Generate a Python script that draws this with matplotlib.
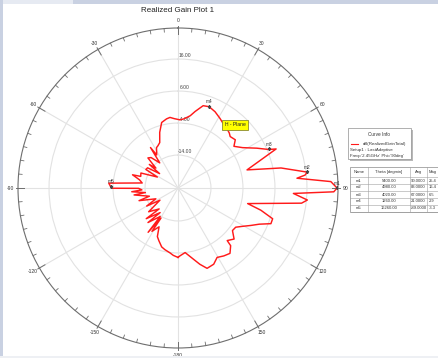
import numpy as np
import matplotlib
matplotlib.use("Agg")
import matplotlib.pyplot as plt
from matplotlib.patches import Rectangle

plt.rcParams['font.family'] = ['Liberation Sans', 'DejaVu Sans']

# Realized gain (dB) versus angle, H-plane cut
theta_deg = [-180, -176, -172.8, -168, -164.5, -160, -157, -154, -149, -150.5,
             -146, -148, -139, -144, -134, -138, -129, -124, -120, -116,
             -108, -106, -99, -98, -94.6, -93, -90.5, -90.2, -89, -86,
             -82, -78, -73.8, -72.7, -68, -62, -60, -56.4, -52, -50.6,
             -48, -45, -41.5, -36, -34.2, -32.8, -28, -25.5, -21.9, -18.2,
             -14, -9.4, -6.5, -3, 1.7, 5, 9.6, 12.6, 17, 21,
             25.9, 31.1, 35, 39.2, 43, 45.4, 49.9, 53.3, 58, 63.2,
             67, 68.3, 75.3, 79, 83, 84.2, 85.3, 87.6, 90, 91.4,
             92.7, 95.3, 97, 102.6, 105, 108, 111, 114, 117.2, 121,
             124.2, 128, 132.3, 136.9, 137.6, 141.5, 146, 150.6, 154.9, 160.1,
             164, 167.7, 173.7, 178.3, 180]
gain_db = [-2.6, -3.2, -3.9, -4.6, -5.2, -6.8, -7.8, -10.8, -8.5, -13.5,
           -7.6, -13.8, -10.0, -14.8, -10.5, -15.5, -12.5, -17.5, -13.0, -16.6,
           -11.5, -15.0, -10.4, -14.0, -9.8, -13.0, -12.0, -3.6, -3.3, -2.6,
           -13.0, -12.0, -9.5, -12.1, -11.8, -17.0, -12.7, -12.9, -17.0, -12.7,
           -15.0, -11.0, -11.6, -14.6, -9.0, -12.0, -10.0, -9.7, -9.0, -6.0,
           -3.2, -2.4, -2.1, -2.6, -3.0, -2.6, -1.4, 0.2, 2.6, 2.9,
           2.2, 1.1, 0.3, -0.2, -0.8, -1.4, -0.9, -2.5, -0.5, 3.3,
           6.5, 8.7, -2.0, 8.5, 16.4, 15.6, 13.0, 23.5, 25.4, 24.4,
           11.8, 16.3, 14.6, -2.0, 2.5, 6.8, 6.8, 3.5, 1.3, -1.0,
           -2.5, -2.7, -0.6, -1.8, 0.1, 1.8, 1.3, 0.6, 2.0, 2.4,
           0.5, -1.5, -4.0, -3.1, -2.6]

# Markers
marker_names = ['m1', 'm2', 'm3', 'm4', 'm5']
marker_theta = [90, 83, 67, 21, -89]
marker_db = [25.4, 16.4, 6.5, 2.9, -3.3]

ring_values = [-14, -4, 6, 16]
ring_labels = ['-14.00', '-4.00', '6.00', '16.00']
angle_ticks = [0, 30, 60, 90, 120, 150, 180, 210, 240, 270, 300, 330]
angle_labels = ['0', '30', '60', '90', '120', '150', '-180', '-150', '-120', '-90', '-60', '-30']

r_min, r_max = -24.3, 25.7

W, H = 438, 358
fig = plt.figure(figsize=(W / 100, H / 100), dpi=100)
fig.patch.set_facecolor('white')

# window frame strips
fig.patches.append(Rectangle((73 / W, 1 - 4 / H), 1, 4 / H, transform=fig.transFigure,
                             facecolor='#c9d1e2', edgecolor='none', zorder=0))
fig.patches.append(Rectangle((0, 1 - 4 / H), 73 / W, 4 / H, transform=fig.transFigure,
                             facecolor='#e6eaf2', edgecolor='none', zorder=0))
fig.patches.append(Rectangle((0, 0), 2.5 / W, 1, transform=fig.transFigure,
                             facecolor='#c9d1e2', edgecolor='none', zorder=0))
fig.patches.append(Rectangle((0, 0), 1, 2.5 / H, transform=fig.transFigure,
                             facecolor='#eef0f4', edgecolor='none', zorder=0))

cx, cy, R = 178, 188, 160
ax = fig.add_axes([(cx - R) / W, (H - cy - R) / H, 2 * R / W, 2 * R / H], projection='polar')
ax.set_theta_zero_location('N')
ax.set_theta_direction(-1)
ax.set_rlim(r_min, r_max)
ax.set_thetagrids(angle_ticks, labels=[''] * len(angle_ticks))
ax.set_rgrids(ring_values, labels=[''] * len(ring_values))
ax.grid(True, color='#e2e2e2', lw=0.8)
ax.spines['polar'].set_color('#6e6e6e')
ax.spines['polar'].set_linewidth(0.8)
ax.tick_params(length=0)
ax.set_facecolor('white')

# tick marks along the outer circle
for a in range(0, 360, 5):
    t = np.deg2rad(a)
    if a % 30 == 0:
        ax.plot([t, t], [r_max - 2.0, r_max + 0.6], color='#6e6e6e', lw=0.7, clip_on=False)
    else:
        ax.plot([t, t], [r_max - 1.1, r_max], color='#6e6e6e', lw=0.6, clip_on=False)

for a, lab in zip(angle_ticks, angle_labels):
    ax.text(np.deg2rad(a), r_max + 2.3, lab, ha='center', va='center',
            fontsize=3.6, color='#333333', clip_on=False)

for v, lab in zip(ring_values, ring_labels):
    ax.annotate(lab, xy=(0, v), xytext=(5, 2.5), textcoords='offset points',
                ha='center', va='center', fontsize=3.6, color='#444444')

# gain curve
ax.plot(np.deg2rad(theta_deg), gain_db, color='#ff1a1a', lw=1.05, zorder=5)

# markers
for name, t, v in zip(marker_names, marker_theta, marker_db):
    ax.plot(np.deg2rad(t), v, marker='v', ms=1.6, color='#444444', zorder=6)
    ax.annotate(name, xy=(np.deg2rad(t), v), xytext=(0, 3.5), textcoords='offset points',
                ha='center', va='center', fontsize=3.4, color='#333333', zorder=7)

# title
fig.text(cx / W, 1 - 10.5 / H, 'Realized Gain Plot 1', ha='center', va='center',
         fontsize=5.8, color='#222222')

# plane tag
fig.text(235 / W, 1 - 125 / H, 'H - Plane', ha='center', va='center', fontsize=3.6,
         color='#222222',
         bbox=dict(boxstyle='square,pad=0.55', facecolor='#ffff00', edgecolor='#8a8a30', lw=0.6))

# curve info box
bx0, by0, bx1, by1 = 348, 128, 411, 159
fig.patches.append(Rectangle(((bx0 + 1.5) / W, 1 - (by1 + 1.5) / H), (bx1 - bx0) / W, (by1 - by0) / H,
                             transform=fig.transFigure, facecolor='#b8b8b8', edgecolor='none', zorder=1))
fig.patches.append(Rectangle((bx0 / W, 1 - by1 / H), (bx1 - bx0) / W, (by1 - by0) / H,
                             transform=fig.transFigure, facecolor='white', edgecolor='#909090',
                             lw=0.5, zorder=2))
fig.text(379.5 / W, 1 - 135 / H, 'Curve Info', ha='center', va='center', fontsize=3.4,
         color='#333333', zorder=3)
fig.lines.append(plt.Line2D([350.5 / W, 358 / W], [1 - 143.5 / H, 1 - 143.5 / H],
                            transform=fig.transFigure, color='#ff1a1a', lw=0.8, zorder=3))
fig.text(385 / W, 1 - 143.5 / H, 'dB(RealizedGainTotal)', ha='center', va='center',
         fontsize=3.2, color='#333333', zorder=3)
fig.text(349.5 / W, 1 - 150.5 / H, 'Setup1 : LastAdaptive', ha='left', va='center',
         fontsize=3.2, color='#333333', zorder=3)
fig.text(349.5 / W, 1 - 155.8 / H, "Freq='2.45GHz' Phi='90deg'", ha='left', va='center',
         fontsize=3.2, color='#333333', zorder=3)

# marker table
col_edges = [350, 368, 410, 427, 460]
row_edges = [166.5, 177, 184, 191, 198, 205, 212]
headers = ['Name', 'Theta [degmin]', 'Ang', 'Mag']
rows = []
for name, t, v in zip(marker_names, marker_theta, marker_db):
    rows.append([name, f'{(t % 360) * 60:.2f}', f'{t:.4f}', f'{v:.1f}'])

fig.patches.append(Rectangle((col_edges[0] / W + 1.2 / W, 1 - (row_edges[-1] + 1.2) / H),
                             (col_edges[-1] - col_edges[0]) / W, (row_edges[-1] - row_edges[0]) / H,
                             transform=fig.transFigure, facecolor='#b8b8b8', edgecolor='none', zorder=1))
fig.patches.append(Rectangle((col_edges[0] / W, 1 - row_edges[-1] / H),
                             (col_edges[-1] - col_edges[0]) / W, (row_edges[-1] - row_edges[0]) / H,
                             transform=fig.transFigure, facecolor='white', edgecolor='#8a8a8a',
                             lw=0.5, zorder=2))
for y in row_edges[1:-1]:
    fig.lines.append(plt.Line2D([col_edges[0] / W, col_edges[-1] / W], [1 - y / H, 1 - y / H],
                                transform=fig.transFigure, color='#a0a0a0', lw=0.4, zorder=3))
for x in col_edges[1:-1]:
    fig.lines.append(plt.Line2D([x / W, x / W], [1 - row_edges[0] / H, 1 - row_edges[-1] / H],
                                transform=fig.transFigure, color='#a0a0a0', lw=0.4, zorder=3))
all_rows = [headers] + rows
for i, row in enumerate(all_rows):
    yc = (row_edges[i] + row_edges[i + 1]) / 2
    for j, txt in enumerate(row):
        if j == 3:
            fig.text(428.5 / W, 1 - yc / H, txt, ha='left', va='center', fontsize=2.9,
                     color='#333333', zorder=4)
        else:
            xc = (col_edges[j] + col_edges[j + 1]) / 2
            fig.text(xc / W, 1 - yc / H, txt, ha='center', va='center', fontsize=3.0,
                     color='#333333', zorder=4)

fig.savefig('out.png', dpi=100)
